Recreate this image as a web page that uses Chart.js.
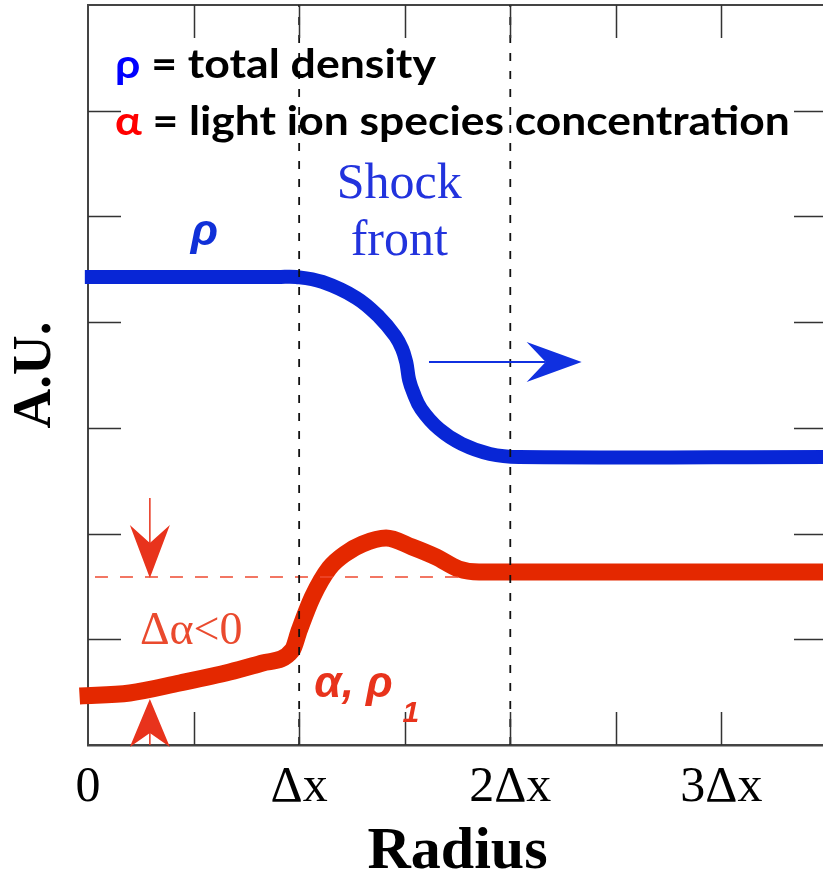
<!DOCTYPE html>
<html>
<head>
<meta charset="utf-8">
<script src="https://cdn.jsdelivr.net/npm/chart.js@4.4.0/dist/chart.umd.min.js"></script>
<style>
  html, body { margin: 0; padding: 0; background: #fff; overflow: hidden; }
  #wrap { width: 832px; height: 877px; }
</style>
</head>
<body>
<div id="wrap"><canvas id="myChart" width="832" height="877"></canvas></div>
<script>
const xTickLabels = ['0', 'Δx', '2Δx', '3Δx'];

// total density (rho), radius in units of dx
const rhoX = [-0.015, 0.9, 0.987, 1.110, 1.271, 1.379, 1.455, 1.488, 1.507, 1.512, 1.521, 1.540, 1.578, 1.663, 1.771, 1.904, 2.041, 3.5];
const rhoY = [4.427, 4.427, 4.427, 4.380, 4.229, 4.049, 3.869, 3.746, 3.623, 3.566, 3.453, 3.339, 3.179, 2.989, 2.847, 2.753, 2.724, 2.724];

// light ion species concentration (alpha)
const alphaX = [-0.04, 0.198, 0.435, 0.671, 0.827, 0.968, 1.001, 1.063, 1.143, 1.223, 1.299, 1.412, 1.535, 1.649, 1.757, 1.852, 3.5];
const alphaY = [0.464, 0.492, 0.587, 0.691, 0.776, 0.899, 1.088, 1.400, 1.674, 1.816, 1.901, 1.958, 1.873, 1.778, 1.665, 1.637, 1.637];

// dashed guides
const shockLines = [1, 2];
const alphaRefX = [0.033, 1.8];
const alphaRefY = 1.589;

const toPts = (xs, ys) => xs.map((v, i) => ({ x: v, y: ys[i] }));

const vLine = v => ({
    data: [{ x: v, y: 0 }, { x: v, y: 7 }],
    borderColor: '#111',
    borderWidth: 1.8,
    borderDash: [8, 10],
    pointRadius: 0,
    order: 0,
});

const data = {
    datasets: [
        vLine(shockLines[0]),
        vLine(shockLines[1]),
        {
            data: alphaRefX.map(v => ({ x: v, y: alphaRefY })),
            borderColor: '#ee4a30',
            borderWidth: 1.5,
            borderDash: [13, 12],
            pointRadius: 0,
            order: 0,
        },
        {
            label: 'rho',
            data: toPts(rhoX, rhoY),
            borderColor: '#0826d6',
            borderWidth: 14,
            borderCapStyle: 'butt',
            borderJoinStyle: 'round',
            tension: 0.4,
            pointRadius: 0,
            clip: false,
            order: 1,
        },
        {
            label: 'alpha',
            data: toPts(alphaX, alphaY),
            borderColor: '#e42800',
            borderWidth: 17,
            borderCapStyle: 'butt',
            borderJoinStyle: 'round',
            cubicInterpolationMode: 'monotone',
            pointRadius: 0,
            clip: false,
            order: 1,
        },
    ]
};

function arrow(ctx, x0, y0, x1, y1, len, half, notch, color, lw) {
    const ang = Math.atan2(y1 - y0, x1 - x0);
    const L = Math.hypot(x1 - x0, y1 - y0);
    ctx.save();
    ctx.translate(x1, y1);
    ctx.rotate(ang);
    ctx.strokeStyle = color;
    ctx.lineWidth = lw;
    ctx.beginPath();
    ctx.moveTo(-L, 0);
    ctx.lineTo(-notch, 0);
    ctx.stroke();
    ctx.fillStyle = color;
    ctx.beginPath();
    ctx.moveTo(0, 0);
    ctx.lineTo(-len, -half);
    ctx.lineTo(-notch, 0);
    ctx.lineTo(-len, half);
    ctx.closePath();
    ctx.fill();
    ctx.restore();
}

function richLine(ctx, parts, x, yb, font, targetW) {
    ctx.font = font;
    const total = parts.reduce((s, p) => s + ctx.measureText(p[0]).width, 0);
    ctx.save();
    ctx.translate(x, yb);
    ctx.scale(targetW / total, 1);
    let cx = 0;
    parts.forEach(([t, c]) => {
        ctx.fillStyle = c;
        ctx.fillText(t, cx, 0);
        cx += ctx.measureText(t).width;
    });
    ctx.restore();
}

const decor = {
    id: 'decor',
    afterDraw(chart) {
        const { ctx, chartArea: a, scales: { x, y } } = chart;
        const px = v => x.getPixelForValue(v);
        const py = v => y.getPixelForValue(v);
        ctx.save();

        // inward tick marks on all four sides
        ctx.strokeStyle = '#333';
        ctx.lineWidth = 1.5;
        ctx.beginPath();
        x.ticks.forEach(t => {
            if (t.value <= 0 || t.value >= 3.5) return;
            const p = Math.round(px(t.value)) + 0.5;
            ctx.moveTo(p, a.bottom); ctx.lineTo(p, a.bottom - 33);
            ctx.moveTo(p, a.top); ctx.lineTo(p, a.top + 33);
        });
        y.ticks.forEach(t => {
            if (t.value <= 0 || t.value >= 7) return;
            const p = Math.round(py(t.value)) + 0.5;
            ctx.moveTo(a.left, p); ctx.lineTo(a.left + 33, p);
            ctx.moveTo(a.right, p); ctx.lineTo(a.right - 33, p);
        });
        ctx.stroke();

        // arrows
        arrow(ctx, px(1.615), py(3.623), px(2.338), py(3.623), 55, 20, 36, '#1030e0', 2);
        arrow(ctx, px(0.293), py(2.337), px(0.293), py(1.580), 53, 20, 35, '#e8331c', 1.5);
        arrow(ctx, px(0.293), py(0), px(0.293), py(0.435), 48, 20, 34, '#e8331c', 1.5);

        // legend text
        ctx.textBaseline = 'alphabetic';
        ctx.textAlign = 'left';
        richLine(ctx, [['ρ', '#0000ff'], [' = total density', '#000']], px(0.1275), py(6.31), 'bold 40px Lato', 321);
        richLine(ctx, [['α', '#ff0000'], [' = light ion species concentration', '#000']], px(0.1275), py(5.771), 'bold 40px Lato', 675);

        // labels on the curves
        ctx.textAlign = 'center';
        ctx.fillStyle = '#2233dd';
        ctx.font = '50px "Liberation Serif"';
        ctx.fillText('Shock', px(1.474), py(5.175));
        ctx.fillText('front', px(1.474), py(4.635));

        ctx.textAlign = 'left';
        ctx.fillStyle = '#1030d8';
        ctx.font = 'italic bold 45px "Liberation Sans"';
        ctx.fillText('ρ', px(0.487), py(4.73));

        ctx.fillStyle = '#ea4a2e';
        ctx.font = '46px "Liberation Serif"';
        ctx.fillText('Δα<0', px(0.246), py(0.955));

        ctx.fillStyle = '#e8331c';
        ctx.font = 'italic bold 44px "Liberation Sans"';
        ctx.fillText('α, ρ', px(1.072), py(0.454));
        ctx.font = 'italic bold 30px "Liberation Sans"';
        ctx.fillText('1', px(1.49), py(0.217));

        ctx.restore();
    }
};

const config = {
    type: 'line',
    data: data,
    plugins: [decor],
    options: {
        responsive: false,
        animation: false,
        layout: {
            padding: { top: 5, right: 3, left: 0, bottom: 0 },
        },
        plugins: {
            legend: { display: false },
            tooltip: { enabled: false },
        },
        scales: {
            x: {
                type: 'linear',
                position: 'bottom',
                min: 0,
                max: 3.5,
                grid: { display: false },
                border: { display: true, color: '#444', width: 2.5 },
                ticks: {
                    stepSize: 0.5,
                    autoSkip: false,
                    maxRotation: 0,
                    padding: 5,
                    color: '#000',
                    font: { family: 'Liberation Serif', size: 50 },
                    callback: v => Number.isInteger(v) ? xTickLabels[v] : '',
                },
                title: {
                    display: true,
                    text: 'Radius',
                    color: '#000',
                    font: { family: 'Liberation Serif', size: 60, weight: 'bold', lineHeight: 0.8 },
                    padding: { top: 0, bottom: 1 },
                },
                afterFit: s => { s.height = 132; },
            },
            y: {
                type: 'linear',
                position: 'left',
                min: 0,
                max: 7,
                grid: { display: false },
                border: { display: true, color: '#444', width: 2 },
                ticks: { display: false, stepSize: 1 },
                title: {
                    display: true,
                    text: 'A.U.',
                    color: '#000',
                    font: { family: 'Liberation Serif', size: 55, weight: 'bold' },
                    padding: { top: 3, bottom: 0 },
                },
                afterFit: s => { s.width = 88; },
            },
            x2: {
                type: 'linear',
                position: 'top',
                min: 0,
                max: 3.5,
                grid: { display: false },
                border: { display: true, color: '#444', width: 2 },
                ticks: { display: false },
                afterFit: s => { s.height = 0; },
            },
            y2: {
                type: 'linear',
                position: 'right',
                min: 0,
                max: 7,
                grid: { display: false },
                border: { display: true, color: '#444', width: 2 },
                ticks: { display: false },
                afterFit: s => { s.width = 0; },
            },
        }
    }
};

const myChart = new Chart(
    document.getElementById('myChart'),
    config
);
</script>
</body>
</html>
